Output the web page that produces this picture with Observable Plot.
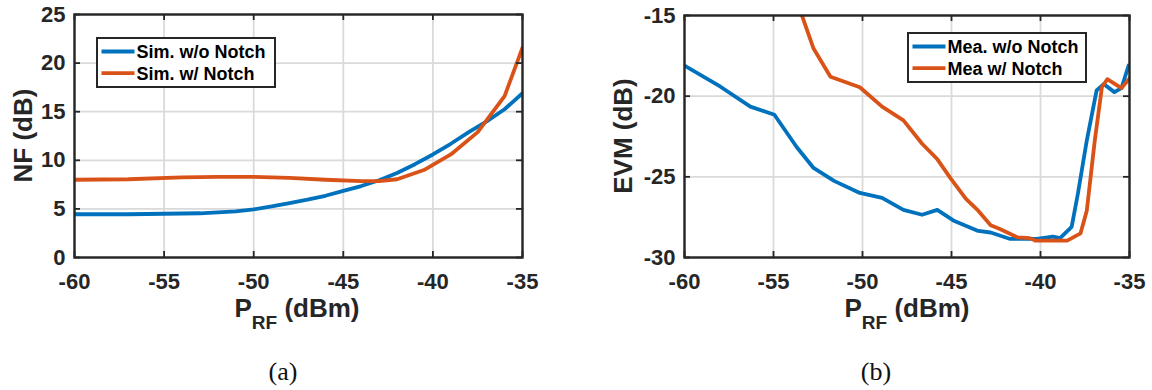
<!DOCTYPE html>
<html><head><meta charset="utf-8">
<script src="https://cdn.jsdelivr.net/npm/d3@7"></script>
<script src="https://cdn.jsdelivr.net/npm/@observablehq/plot@0.6"></script>
<style>
body{margin:0;background:#fff;}
#wrap{position:relative;width:1152px;height:390px;}
#wrap svg{position:absolute;top:0;}
</style></head>
<body><div id="wrap"></div>
<script>
// ---- Data ----
const xTicks = [-60, -55, -50, -45, -40, -35];
const nfTicks = [0, 5, 10, 15, 20, 25];
const evmTicks = [-30, -25, -20, -15];

const nfSimNoNotchX = [-60,-57,-55,-53,-51,-50,-49,-48,-47,-46,-45,-44,-43,-42,-41,-40,-39,-38,-37,-36,-35];
const nfSimNoNotchY = [4.45,4.45,4.5,4.55,4.75,4.95,5.25,5.6,5.95,6.35,6.85,7.35,7.95,8.7,9.6,10.6,11.7,12.9,14.0,15.25,16.9];
const nfSimNotchX = [-60,-57,-54,-52,-50,-48,-46,-44,-43,-42,-40.5,-39,-37.5,-36,-35];
const nfSimNotchY = [8.0,8.05,8.25,8.3,8.3,8.2,8.0,7.85,7.85,8.05,9.0,10.6,12.9,16.6,21.6];

const evmMeaNoNotchX = [-60,-58,-56.3,-54.95,-53.7,-52.75,-51.6,-50.15,-48.9,-47.7,-46.65,-45.8,-44.9,-43.5,-42.8,-41.7,-40.2,-39.3,-38.9,-38.25,-37.9,-37.4,-36.85,-36.45,-35.85,-35.45,-35.05];
const evmMeaNoNotchY = [-18.1,-19.4,-20.65,-21.15,-23.15,-24.45,-25.25,-26.0,-26.3,-27.05,-27.35,-27.05,-27.7,-28.35,-28.45,-28.85,-28.85,-28.7,-28.8,-28.1,-26.05,-22.75,-19.65,-19.25,-19.75,-19.5,-18.1];
const evmMeaNotchX = [-53.4,-52.75,-51.8,-50.15,-48.9,-47.7,-46.65,-45.8,-45.05,-44.2,-43.5,-42.8,-42.25,-41.3,-40.6,-40.3,-38.5,-37.75,-37.4,-36.95,-36.55,-36.25,-35.45,-35.0];
const evmMeaNotchY = [-15.0,-17.05,-18.8,-19.45,-20.65,-21.5,-22.95,-23.9,-25.1,-26.35,-27.1,-28.0,-28.25,-28.75,-28.8,-28.95,-28.95,-28.5,-27.1,-22.75,-19.45,-18.95,-19.5,-18.9];

const seriesNames = {
  a: ["Sim. w/o Notch", "Sim. w/ Notch"],
  b: ["Mea. w/o Notch", "Mea w/ Notch"]
};
const colors = ["#0072BD", "#D95319"];

const FONT = "'Liberation Sans', Arial, sans-serif";
const INK = "#262626";
const LW = 3.8;

function toRows(xs, ys) { return xs.map((x, i) => ({x, y: ys[i]})); }

function panel(opt) {
  const W = 576, H = 390;
  const plotH = H - opt.mt - opt.mb;
  const [y0, y1] = opt.yDomain;
  const tl = 6;
  const tlY = (y1 - y0) * tl / plotH;
  const tlX = 25 * tl / (W - opt.ml - opt.mr);
  const svg = Plot.plot({
    width: W, height: H,
    marginLeft: opt.ml, marginRight: opt.mr, marginTop: opt.mt, marginBottom: opt.mb,
    style: {fontFamily: FONT, fontWeight: "bold", fontSize: "22px", color: INK, background: "transparent", overflow: "visible"},
    x: {domain: [-60, -35], label: null},
    y: {domain: opt.yDomain, label: null},
    marks: [
      Plot.gridX(xTicks, {stroke: "#dadada", strokeOpacity: 1, strokeWidth: 1.8}),
      Plot.gridY(opt.yTicks, {stroke: "#dadada", strokeOpacity: 1, strokeWidth: 1.8}),
      Plot.line(toRows(opt.s1x, opt.s1y), {x: "x", y: "y", stroke: colors[0], strokeWidth: LW, clip: true}),
      Plot.line(toRows(opt.s2x, opt.s2y), {x: "x", y: "y", stroke: colors[1], strokeWidth: LW, clip: true}),
      Plot.ruleX(xTicks, {x: d => d, y1: y0, y2: y0 + tlY, stroke: INK, strokeWidth: 1.8}),
      Plot.ruleX(xTicks, {x: d => d, y1: y1, y2: y1 - tlY, stroke: INK, strokeWidth: 1.8}),
      Plot.ruleY(opt.yTicks, {y: d => d, x1: -60, x2: -60 + tlX, stroke: INK, strokeWidth: 1.8}),
      Plot.ruleY(opt.yTicks, {y: d => d, x1: -35, x2: -35 - tlX, stroke: INK, strokeWidth: 1.8}),
      Plot.frame({stroke: INK, strokeWidth: 2.4}),
      Plot.axisX(xTicks, {tickSize: 0, tickPadding: 16, tickFormat: d => String(d), fontSize: 22, fontWeight: "bold", fill: INK}),
      Plot.axisY(opt.yTicks, {tickSize: 0, tickPadding: 9, tickFormat: d => String(d), fontSize: 22, fontWeight: "bold", fill: INK})
    ]
  });
  svg.style.left = opt.left + "px";
  const s = d3.select(svg);
  // y label
  s.append("text").attr("transform", `translate(${opt.ylx},${opt.mt + plotH / 2}) rotate(-90)`)
    .attr("text-anchor", "middle").attr("dominant-baseline", "central")
    .attr("font-family", FONT).attr("font-weight", "bold").attr("font-size", 26).attr("fill", INK)
    .text(opt.ylabel);
  // x label with subscript
  const xl = s.append("text").attr("x", opt.xlx).attr("y", 317).attr("text-anchor", "middle")
    .attr("font-family", FONT).attr("font-weight", "bold").attr("font-size", 26).attr("fill", INK);
  xl.append("tspan").text("P");
  xl.append("tspan").attr("dy", 12).attr("font-size", 19).text("RF");
  xl.append("tspan").attr("dy", -12).text(" (dBm)");
  // caption
  s.append("text").attr("x", opt.capx).attr("y", 380).attr("text-anchor", "middle")
    .attr("font-family", "'Liberation Serif', 'DejaVu Serif', serif").attr("font-weight", "normal")
    .attr("font-size", 26).attr("fill", "#111")
    .text(opt.caption);
  // legend
  const L = opt.legend;
  s.append("rect").attr("x", L.x).attr("y", L.y).attr("width", L.w).attr("height", L.h)
    .attr("fill", "#fff").attr("stroke", INK).attr("stroke-width", 2);
  opt.names.forEach((n, i) => {
    const yy = L.y + 13.5 + i * 21.6;
    s.append("line").attr("x1", L.x + 4.5).attr("x2", L.x + 37.5).attr("y1", yy).attr("y2", yy)
      .attr("stroke", colors[i]).attr("stroke-width", LW);
    s.append("text").attr("x", L.x + 39.5).attr("y", yy).attr("dy", "0.36em")
      .attr("text-anchor", "start")
      .attr("font-family", FONT).attr("font-weight", "bold").attr("font-size", 18).attr("fill", "#000")
      .text(n);
  });
  return svg;
}

const wrap = document.getElementById("wrap");
wrap.appendChild(panel({
  left: 0, ml: 74, mr: 54, mt: 14, mb: 133,
  yDomain: [0, 25], yTicks: nfTicks,
  s1x: nfSimNoNotchX, s1y: nfSimNoNotchY, s2x: nfSimNotchX, s2y: nfSimNotchY,
  ylabel: "NF (dB)", ylx: 23, xlx: 297, capx: 283, caption: "(a)",
  names: seriesNames.a, legend: {x: 97, y: 38, w: 178, h: 49}
}));
wrap.appendChild(panel({
  left: 576, ml: 108, mr: 23, mt: 15, mb: 133,
  yDomain: [-30, -15], yTicks: evmTicks,
  s1x: evmMeaNoNotchX, s1y: evmMeaNoNotchY, s2x: evmMeaNotchX, s2y: evmMeaNotchY,
  ylabel: "EVM (dB)", ylx: 47, xlx: 331, capx: 300, caption: "(b)",
  names: seriesNames.b, legend: {x: 332, y: 33, w: 178, h: 49}
}));
</script>
</body></html>
